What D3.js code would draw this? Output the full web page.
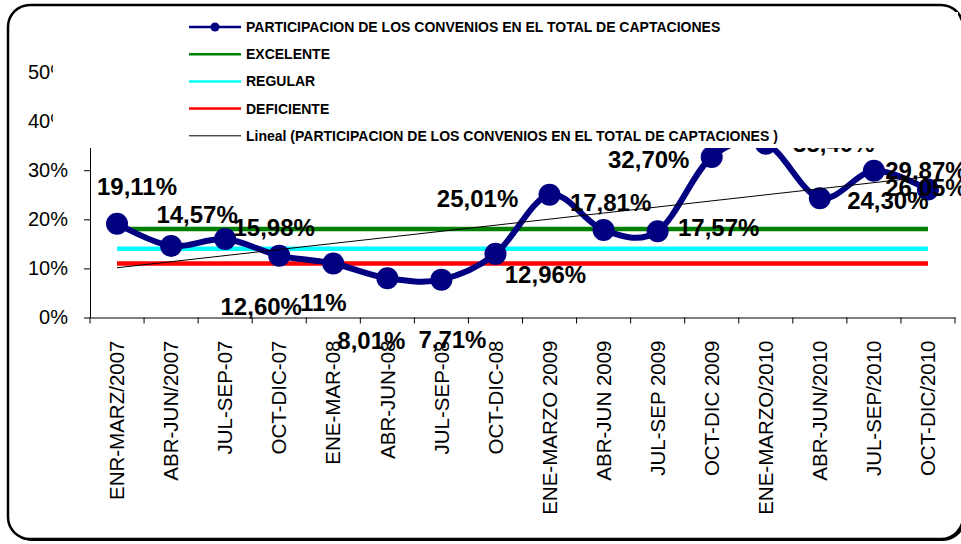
<!DOCTYPE html>
<html>
<head>
<meta charset="utf-8">
<script src="https://cdn.jsdelivr.net/npm/d3@7"></script>
<style>
    body { margin: 0; background: #fff; }
    text { font-family: "Liberation Sans", Arial, sans-serif; }
</style>
</head>
<body>
<div id="chart"></div>
<script>
// periodos (trimestres)
var periodos = ["ENR-MARZ/2007", "ABR-JUN/2007", "JUL-SEP-07", "OCT-DIC-07", "ENE-MAR-08", "ABR-JUN-08",
    "JUL-SEP-08", "OCT-DIC-08", "ENE-MARZO 2009", "ABR-JUN 2009", "JUL-SEP 2009", "OCT-DIC 2009",
    "ENE-MARZO/2010", "ABR-JUN/2010", "JUL-SEP/2010", "OCT-DIC/2010"];

// participacion de los convenios (%)
var participacion = [19.11, 14.57, 15.98, 12.60, 11, 8.01, 7.71, 12.96, 25.01, 17.81, 17.57, 32.70,
    35.40, 24.30, 29.87, 26.05];
var etiquetas = ["19,11%", "14,57%", "15,98%", "12,60%", "11%", "8,01%", "7,71%", "12,96%", "25,01%",
    "17,81%", "17,57%", "32,70%", "35,40%", "24,30%", "29,87%", "26,05%"];

// niveles de referencia (%)
var excelente = 18;
var regular = 14;
var deficiente = 11;

var yTicks = [0, 10, 20, 30, 40, 50];

var serieNombre = "PARTICIPACION DE LOS CONVENIOS EN EL TOTAL DE CAPTACIONES";

function init() {
    var w = 961;
    var h = 544;

    // desplazamiento de cada etiqueta de datos respecto a su punto (como en la hoja original)
    var labelShift = [[20, -37], [26, -31], [49, -11], [-18, 51], [-10, 39], [-16, 62], [11, 60], [50, 21],
        [-72, 4], [7, -27], [61, -4], [-63, 3], [68, 0], [68, 2], [52, 0], [-2, -2]];

    var svg = d3.select("#chart")
        .append("svg")
        .attr("width", w)
        .attr("height", h);

    // marco redondeado con sombra
    svg.append("rect")
        .attr("x", 10).attr("y", 7)
        .attr("width", 955).attr("height", 534)
        .attr("rx", 22)
        .attr("fill", "#000");
    svg.append("rect")
        .attr("x", 8).attr("y", 5)
        .attr("width", 955).attr("height", 534)
        .attr("rx", 22)
        .attr("fill", "#fff")
        .attr("stroke", "#000")
        .attr("stroke-width", 2.5);

    var xScale = d3.scaleBand()
        .domain(periodos)
        .range([90, 955]);

    var yScale = d3.scaleLinear()
        .domain([0, 50])
        .range([317.5, 72]);

    function cx(i) {
        return xScale(periodos[i]) + xScale.bandwidth() / 2;
    }

    // eje Y
    var yAxis = d3.axisLeft(yScale)
        .tickValues(yTicks)
        .tickSize(6)
        .tickSizeOuter(0)
        .tickPadding(16)
        .tickFormat(function (d) { return d + "%"; });

    var gy = svg.append("g")
        .attr("transform", "translate(90,0)")
        .call(yAxis);
    gy.selectAll("text")
        .attr("font-size", "20px")
        .attr("font-family", "Liberation Sans, Arial, sans-serif")
        .attr("fill", "#000");
    gy.selectAll("line, path").attr("stroke", "#000");

    // eje X
    var xAxis = d3.axisBottom(xScale)
        .tickSize(0)
        .tickSizeOuter(0);

    var gx = svg.append("g")
        .attr("transform", "translate(0," + yScale(0) + ")")
        .call(xAxis);
    gx.select(".domain").attr("stroke", "#000");
    gx.selectAll("text")
        .attr("font-size", "20.5px")
        .attr("font-family", "Liberation Sans, Arial, sans-serif")
        .attr("fill", "#000")
        .attr("text-anchor", "end")
        .attr("transform", "translate(0,23) rotate(-90)")
        .attr("x", 0)
        .attr("y", 0)
        .attr("dy", "0.35em");

    // marcas entre categorias
    var bordes = periodos.map(function (p) { return xScale(p); }).concat([xScale.range()[1]]);
    svg.append("g")
        .selectAll("line")
        .data(bordes)
        .enter()
        .append("line")
        .attr("x1", function (d) { return d; })
        .attr("x2", function (d) { return d; })
        .attr("y1", yScale(0))
        .attr("y2", yScale(0) + 6)
        .attr("stroke", "#000");

    // lineas de referencia
    var x0 = cx(0);
    var x1 = cx(periodos.length - 1);
    var niveles = [
        { v: excelente, c: "#008000" },
        { v: regular, c: "#00ffff" },
        { v: deficiente, c: "#ff0000" }
    ];
    svg.append("g")
        .selectAll("line")
        .data(niveles)
        .enter()
        .append("line")
        .attr("x1", x0)
        .attr("x2", x1)
        .attr("y1", function (d) { return yScale(d.v); })
        .attr("y2", function (d) { return yScale(d.v); })
        .attr("stroke", function (d) { return d.c; })
        .attr("stroke-width", 4.5);

    // linea de tendencia (regresion lineal)
    var n = participacion.length;
    var mx = d3.mean(d3.range(n));
    var my = d3.mean(participacion);
    var sxy = d3.sum(participacion, function (d, i) { return (i - mx) * (d - my); });
    var sxx = d3.sum(d3.range(n), function (i) { return (i - mx) * (i - mx); });
    var pend = sxy / sxx;
    var orig = my - pend * mx;

    // serie principal suavizada
    var line = d3.line()
        .x(function (d, i) { return cx(i); })
        .y(function (d) { return yScale(d); })
        .curve(d3.curveCatmullRom.alpha(0));

    svg.append("path")
        .datum(participacion)
        .attr("d", line)
        .attr("fill", "none")
        .attr("stroke", "#000080")
        .attr("stroke-width", 6)
        .attr("stroke-linejoin", "round");

    svg.append("g")
        .selectAll("circle")
        .data(participacion)
        .enter()
        .append("circle")
        .attr("cx", function (d, i) { return cx(i); })
        .attr("cy", function (d) { return yScale(d); })
        .attr("r", 11)
        .attr("fill", "#000080");

    svg.append("line")
        .attr("x1", x0)
        .attr("x2", x1)
        .attr("y1", yScale(orig))
        .attr("y2", yScale(orig + pend * (n - 1)))
        .attr("stroke", "#000")
        .attr("stroke-width", 1);

    // etiquetas de datos
    svg.append("g")
        .selectAll("text")
        .data(participacion)
        .enter()
        .append("text")
        .attr("x", function (d, i) { return cx(i) + labelShift[i][0]; })
        .attr("y", function (d, i) { return yScale(d) + labelShift[i][1]; })
        .attr("dy", "0.35em")
        .attr("text-anchor", "middle")
        .attr("font-size", "24px")
        .attr("font-weight", "bold")
        .attr("fill", "#000")
        .text(function (d, i) { return etiquetas[i]; });

    // leyenda (tapa la parte alta del grafico)
    svg.append("rect")
        .attr("x", 53).attr("y", 12)
        .attr("width", 905).attr("height", 136)
        .attr("fill", "#fff");

    var leyenda = [
        { t: serieNombre, c: "#000080", sw: 2.5, dot: true },
        { t: "EXCELENTE", c: "#008000", sw: 2.5 },
        { t: "REGULAR", c: "#00ffff", sw: 2.5 },
        { t: "DEFICIENTE", c: "#ff0000", sw: 2.5 },
        { t: "Lineal (" + serieNombre + " )", c: "#000", sw: 1 }
    ];

    var items = svg.append("g")
        .selectAll("g")
        .data(leyenda)
        .enter()
        .append("g")
        .attr("transform", function (d, i) { return "translate(189," + (27 + i * 27.2) + ")"; });

    items.append("line")
        .attr("x1", 0).attr("x2", 52)
        .attr("stroke", function (d) { return d.c; })
        .attr("stroke-width", function (d) { return d.sw; });

    items.filter(function (d) { return d.dot; })
        .append("circle")
        .attr("cx", 26)
        .attr("r", 4.5)
        .attr("fill", "#000080");

    items.append("text")
        .attr("x", 57)
        .attr("dy", "0.35em")
        .attr("font-size", "14px")
        .attr("font-weight", "bold")
        .attr("fill", "#000")
        .text(function (d) { return d.t; });
}
window.onload = init;
</script>
</body>
</html>
